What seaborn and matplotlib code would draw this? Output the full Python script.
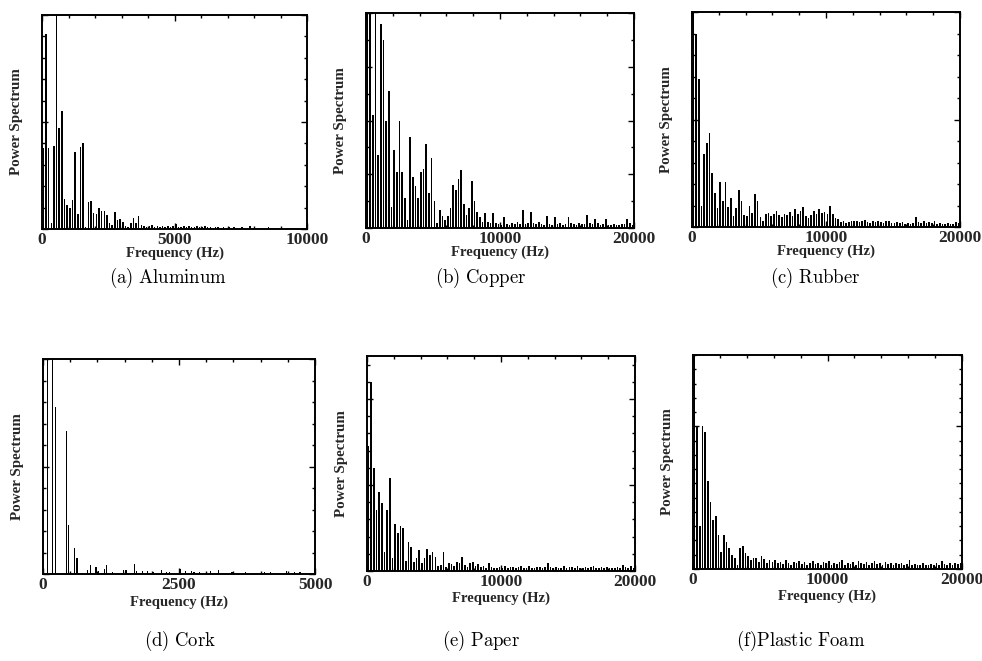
import numpy as np
import pandas as pd
import matplotlib
matplotlib.use("Agg")
import matplotlib.pyplot as plt
from matplotlib.ticker import MultipleLocator
import seaborn as sns

sns.set_theme(style="ticks")
plt.rcParams["font.family"] = ["Liberation Serif", "DejaVu Serif"]
plt.rcParams["mathtext.fontset"] = "cm"

# ---------------------------------------------------------------------------
# Power spectra of impact sounds, one list per material (uniform FFT bins)
# ---------------------------------------------------------------------------
aluminum_bin_hz = 100
aluminum_power = [
    3.8, 9.1, 3.8, 0.3, 3.9, 11.0, 4.7, 5.5, 1.4, 1.1,
    1.0, 1.35, 3.6, 0.7, 3.85, 4.0, 0.1, 1.25, 1.3, 0.75,
    0.7, 1.0, 0.85, 0.85, 0.65, 0.3, 0.2, 0.8, 0.4, 0.45,
    0.35, 0.15, 0.1, 0.3, 0.5, 0.3, 0.6, 0.2, 0.15, 0.1,
    0.15, 0.2, 0.1, 0.15, 0.1, 0.12, 0.08, 0.15, 0.1, 0.12,
    0.25, 0.1, 0.08, 0.12, 0.1, 0.15, 0.08, 0.1, 0.12, 0.08,
    0.1, 0.15, 0.08, 0.1, 0.06, 0.1, 0.08, 0.05, 0.1, 0.06,
    0.08, 0.05, 0.1, 0.06, 0.05, 0.08, 0.05, 0.06, 0.12, 0.05,
    0.06, 0.04, 0.05, 0.06, 0.04, 0.08, 0.05, 0.04, 0.06, 0.05,
    0.04, 0.06, 0.04, 0.05, 0.04, 0.05, 0.04, 0.05, 0.04, 0.03,
]

copper_bin_hz = 200
copper_power = [
    4.5, 4.5, 2.1, 4.5, 1.35, 3.8, 3.5, 2.0, 2.55, 0.4,
    1.45, 1.05, 2.0, 1.05, 0.55, 0.15, 1.7, 0.95, 0.78, 0.55,
    1.05, 1.1, 1.56, 0.65, 1.3, 0.5, 0.1, 0.34, 0.22, 0.15,
    0.22, 0.38, 0.8, 0.7, 0.92, 1.08, 0.45, 0.25, 0.38, 0.88,
    0.5, 0.3, 0.2, 0.12, 0.28, 0.12, 0.1, 0.27, 0.1, 0.08,
    0.06, 0.2, 0.08, 0.05, 0.1, 0.07, 0.12, 0.08, 0.34, 0.08,
    0.1, 0.3, 0.1, 0.08, 0.12, 0.07, 0.06, 0.22, 0.08, 0.06,
    0.2, 0.08, 0.1, 0.06, 0.08, 0.2, 0.1, 0.08, 0.06, 0.1,
    0.07, 0.08, 0.24, 0.1, 0.08, 0.16, 0.1, 0.06, 0.08, 0.16,
    0.06, 0.05, 0.07, 0.05, 0.06, 0.08, 0.07, 0.17, 0.1, 0.06,
]

rubber_bin_hz = 200
rubber_power = [
    11.0, 9.0, 6.9, 1.0, 3.4, 3.9, 4.35, 2.5, 1.6, 0.9,
    2.1, 1.2, 2.1, 0.95, 1.35, 0.5, 0.9, 1.7, 1.2, 0.55,
    0.5, 1.0, 0.65, 1.55, 1.2, 0.45, 0.3, 0.6, 0.65, 0.5,
    0.6, 0.75, 0.55, 0.45, 0.6, 0.55, 0.7, 0.5, 0.86, 0.6,
    0.75, 0.93, 0.5, 0.4, 0.55, 0.75, 0.6, 0.85, 0.65, 0.7,
    0.6, 0.98, 0.6, 0.4, 0.35, 0.25, 0.3, 0.2, 0.25, 0.3,
    0.28, 0.3, 0.22, 0.28, 0.32, 0.25, 0.2, 0.3, 0.24, 0.3,
    0.25, 0.2, 0.28, 0.3, 0.2, 0.18, 0.25, 0.2, 0.22, 0.15,
    0.2, 0.15, 0.2, 0.47, 0.25, 0.2, 0.3, 0.18, 0.25, 0.2,
    0.3, 0.15, 0.2, 0.12, 0.15, 0.18, 0.12, 0.15, 0.25, 0.18,
]

cork_bin_hz = 50
cork_power = [
    0.0, 12.0, 0.0, 12.0, 7.75, 0.0, 0.0, 0.0, 6.65, 2.3,
    0.0, 1.2, 0.75, 0.0, 0.0, 0.0, 0.2, 0.4, 0.0, 0.33,
    0.12, 0.0, 0.23, 0.4, 0.0, 0.08, 0.0, 0.0, 0.0, 0.17,
    0.17, 0.0, 0.0, 0.46, 0.12, 0.0, 0.12, 0.0, 0.12, 0.0,
    0.09, 0.0, 0.0, 0.2, 0.0, 0.09, 0.09, 0.0, 0.0, 0.0,
    0.23, 0.0, 0.12, 0.0, 0.12, 0.08, 0.0, 0.09, 0.0, 0.0,
    0.0, 0.12, 0.0, 0.0, 0.2, 0.0, 0.0, 0.0, 0.0, 0.08,
    0.0, 0.0, 0.0, 0.0, 0.09, 0.0, 0.0, 0.0, 0.0, 0.0,
    0.0, 0.08, 0.0, 0.09, 0.0, 0.0, 0.0, 0.0, 0.0, 0.15,
    0.0, 0.0, 0.09, 0.0, 0.08, 0.0, 0.0, 0.0, 0.0, 0.0,
]

paper_bin_hz = 200
paper_power = [
    14.5, 22.0, 12.0, 7.1, 9.2, 7.9, 2.2, 7.1, 10.8, 1.5,
    5.5, 4.4, 5.2, 5.0, 1.2, 3.4, 2.75, 1.0, 1.5, 2.4,
    0.9, 1.5, 2.6, 1.9, 2.25, 1.6, 0.6, 0.7, 2.25, 0.5,
    0.9, 0.8, 0.6, 1.1, 0.9, 1.67, 0.7, 0.5, 0.9, 1.0,
    0.6, 0.8, 0.5, 0.6, 0.4, 0.9, 0.45, 0.3, 0.4, 0.5,
    0.35, 0.6, 0.3, 0.45, 0.5, 0.3, 0.5, 0.6, 0.4, 0.3,
    0.55, 0.4, 0.3, 0.45, 0.5, 0.35, 0.5, 0.9, 0.45, 0.3,
    0.5, 0.4, 0.35, 0.6, 0.3, 0.45, 0.5, 0.3, 0.6, 0.4,
    0.35, 0.5, 0.3, 0.45, 0.55, 0.3, 0.4, 0.5, 0.3, 0.45,
    0.35, 0.4, 0.3, 0.5, 0.4, 0.7, 0.45, 0.3, 0.6, 0.35,
]

foam_bin_hz = 200
foam_power = [
    16.0, 10.0, 3.0, 10.0, 9.6, 6.2, 4.7, 3.45, 3.7, 2.4,
    1.2, 2.4, 1.9, 1.5, 1.0, 0.8, 0.3, 1.5, 1.6, 1.1,
    0.9, 0.6, 0.8, 0.77, 0.5, 0.88, 0.7, 0.4, 0.6, 0.5,
    0.65, 0.4, 0.5, 0.35, 0.65, 0.45, 0.3, 0.5, 0.4, 0.55,
    0.35, 0.5, 0.3, 0.45, 0.55, 0.35, 0.4, 0.3, 0.5, 0.4,
    0.55, 0.3, 0.45, 0.35, 0.5, 0.6, 0.3, 0.4, 0.35, 0.5,
    0.3, 0.55, 0.4, 0.35, 0.5, 0.3, 0.45, 0.55, 0.35, 0.4,
    0.3, 0.5, 0.35, 0.4, 0.3, 0.45, 0.35, 0.4, 0.3, 0.35,
    0.6, 0.3, 0.35, 0.25, 0.3, 0.4, 0.25, 0.3, 0.35, 0.3,
    0.45, 0.3, 0.55, 0.35, 0.3, 0.4, 0.3, 0.45, 0.35, 0.4,
]

captions = [
    r"$\mathrm{(a)\ Aluminum}$",
    r"$\mathrm{(b)\ Copper}$",
    r"$\mathrm{(c)\ Rubber}$",
    r"$\mathrm{(d)\ Cork}$",
    r"$\mathrm{(e)\ Paper}$",
    r"$\mathrm{(f)Plastic\ Foam}$",
]

# panel geometry in pixels: left, top, width, height (figure is 982 x 661)
FIG_W, FIG_H = 982, 661
panels = [
    dict(power=aluminum_power, bin_hz=aluminum_bin_hz, box=(42, 15, 265, 214),
         xmax=10000, xmajor=5000, xminor=1000, ymax=10, ymajor=5, yminor=1, bw=0.55,
         xlab=18, cap=(168, 278)),
    dict(power=copper_power, bin_hz=copper_bin_hz, box=(366, 13, 268, 215),
         xmax=20000, xmajor=10000, xminor=2000, ymax=4, ymajor=1, yminor=0.5, bw=0.62,
         xlab=18, cap=(481, 278)),
    dict(power=rubber_power, bin_hz=rubber_bin_hz, box=(692, 12, 268, 215),
         xmax=20000, xmajor=10000, xminor=2000, ymax=10, ymajor=5, yminor=1, bw=0.62,
         xlab=18, cap=(815, 278)),
    dict(power=cork_power, bin_hz=cork_bin_hz, box=(43, 359, 272, 215),
         xmax=5000, xmajor=2500, xminor=500, ymax=10, ymajor=5, yminor=1, bw=0.42,
         xlab=22, cap=(180, 641)),
    dict(power=paper_power, bin_hz=paper_bin_hz, box=(367, 356, 268, 215),
         xmax=20000, xmajor=10000, xminor=2000, ymax=25, ymajor=10, yminor=2, bw=0.62,
         xlab=21, cap=(481, 641)),
    dict(power=foam_power, bin_hz=foam_bin_hz, box=(693, 355, 269, 214),
         xmax=20000, xmajor=10000, xminor=2000, ymax=15, ymajor=10, yminor=1, bw=0.62,
         xlab=21, cap=(801, 641)),
]

fig = plt.figure(figsize=(FIG_W / 100, FIG_H / 100), dpi=100)
fig.patch.set_facecolor("white")

for p, cap in zip(panels, captions):
    left, top, w, h = p["box"]
    ax = fig.add_axes([left / FIG_W, 1 - (top + h) / FIG_H, w / FIG_W, h / FIG_H])
    ax.set_facecolor("white")

    n = len(p["power"])
    freq = np.arange(n) * p["bin_hz"] + p["bin_hz"] / 2
    df = pd.DataFrame({"Frequency": freq, "Power": p["power"]})
    sns.barplot(data=df, x="Frequency", y="Power", native_scale=True,
                color="black", saturation=1, width=p["bw"], linewidth=0,
                errorbar=None, ax=ax)

    ax.set_xlim(0, p["xmax"])
    ax.set_ylim(0, p["ymax"])
    ax.xaxis.set_minor_locator(MultipleLocator(p["xminor"]))
    ax.yaxis.set_major_locator(MultipleLocator(p["ymajor"]))
    ax.yaxis.set_minor_locator(MultipleLocator(p["yminor"]))
    ax.tick_params(which="both", direction="in", top=True, right=True,
                   labelleft=False, color="black", width=1.0)
    ax.tick_params(which="major", length=4.5, pad=2)
    ax.tick_params(which="minor", length=2.5)
    ticks = np.arange(0, p["xmax"] + 1, p["xmajor"])
    ax.set_xticks(ticks)
    ax.set_xticklabels([str(int(t)) for t in ticks], fontsize=12.5,
                       fontweight="bold", family="Liberation Serif")

    for s in ax.spines.values():
        s.set_visible(True)
        s.set_color("black")
        s.set_linewidth(1.4)

    ax.set_xlabel("Frequency (Hz)", fontsize=10.5, fontweight="bold",
                  family="Liberation Serif")
    ax.set_ylabel("Power Spectrum", fontsize=10.8, fontweight="bold",
                  family="Liberation Serif")
    ax.xaxis.set_label_coords(0.5, -p["xlab"] / h)
    ax.yaxis.set_label_coords(-19 / w, 0.5)

    cx, cy = p["cap"]
    fig.text(cx / FIG_W, 1 - cy / FIG_H, cap, fontsize=13.5,
             ha="center", va="center", color="black")

fig.savefig("out.png", dpi=100, facecolor="white")
